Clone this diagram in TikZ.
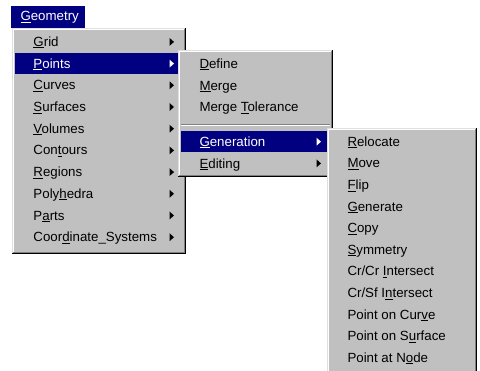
\documentclass[tikz,border=0pt]{standalone}
\usepackage{fontspec}
\setmainfont{Liberation Sans}
\usepackage{xcolor}
\usepackage{tikz}
\definecolor{menugray}{HTML}{C0C0C0}
\definecolor{menunavy}{HTML}{000080}
\definecolor{menudark}{HTML}{808080}
\definecolor{menulight}{HTML}{DFDFDF}
\newcommand{\acc}[1]{\setbox0\hbox{#1}\rlap{\rule[-1.9pt]{\wd0}{0.9pt}}#1}

\begin{document}
\begin{tikzpicture}[x=1pt,y=-1pt,line width=1pt,
    item/.style={anchor=base west,inner sep=0pt,font=\fontsize{13.3}{15}\selectfont},
    hotitem/.style={item,text=white},
    submark/.style={fill=black},
    hotsubmark/.style={fill=white}]
  \useasboundingbox[fill=white] (0,0) rectangle (480,371);
  % title bar
  \fill[menunavy] (11,6) rectangle (85,28);
  \node[hotitem] (geometry) at (20,21) {\acc{G}eometry};
  % main menu
  \fill[menugray] (12,28) rectangle (186,254);
  \draw[menulight] (12.5,253) |- (185,28.5);
  \draw[white] (13.5,252) |- (184,29.5);
  \draw[menudark] (13,252.5) -| (184.5,29);
  \draw[black] (12,253.5) -| (185.5,28);
  \fill[menunavy] (15,52.7) rectangle (183,74.4);
  \node[item] (grid) at (33,46.5) {\acc{G}rid};
  \node[hotitem] (points) at (33,68.2) {\acc{P}oints};
  \node[item] (curves) at (33,89.9) {\acc{C}urves};
  \node[item] (surfaces) at (33,111.6) {\acc{S}urfaces};
  \node[item] (volumes) at (33,133.3) {\acc{V}olumes};
  \node[item] (contours) at (33,155.0) {Con\acc{t}ours};
  \node[item] (regions) at (33,176.7) {\acc{R}egions};
  \node[item] (polyhedra) at (33,198.4) {Poly\acc{h}edra};
  \node[item] (parts) at (33,220.1) {P\acc{a}rts};
  \node[item] (coordsys) at (33,241.8) {Coor\acc{d}inate\_Systems};
  \fill[submark] (169.5,37.9) -- (174,41.9) -- (169.5,45.9) -- cycle;
  \fill[hotsubmark] (169.5,59.6) -- (174,63.6) -- (169.5,67.6) -- cycle;
  \fill[submark] (169.5,81.3) -- (174,85.3) -- (169.5,89.3) -- cycle;
  \fill[submark] (169.5,103.0) -- (174,107.0) -- (169.5,111.0) -- cycle;
  \fill[submark] (169.5,124.7) -- (174,128.7) -- (169.5,132.7) -- cycle;
  \fill[submark] (169.5,146.4) -- (174,150.4) -- (169.5,154.4) -- cycle;
  \fill[submark] (169.5,168.1) -- (174,172.1) -- (169.5,176.1) -- cycle;
  \fill[submark] (169.5,189.8) -- (174,193.8) -- (169.5,197.8) -- cycle;
  \fill[submark] (169.5,211.5) -- (174,215.5) -- (169.5,219.5) -- cycle;
  \fill[submark] (169.5,233.2) -- (174,237.2) -- (169.5,241.2) -- cycle;
  % points submenu
  \fill[menugray] (178,50) rectangle (333,177);
  \draw[menulight] (178.5,176) |- (332,50.5);
  \draw[white] (179.5,175) |- (331,51.5);
  \draw[menudark] (179,175.5) -| (331.5,51);
  \draw[black] (178,176.5) -| (332.5,50);
  \node[item] (define) at (199,68.5) {\acc{D}efine};
  \node[item] (merge) at (199,90.2) {\acc{M}erge};
  \node[item] (mergetol) at (199,111.9) {Merge \acc{T}olerance};
  \draw[menudark] (181,124.5) -- (330,124.5);
  \draw[white] (181,125.5) -- (330,125.5);
  \fill[menunavy] (181,131) rectangle (330,152.5);
  \node[hotitem] (generation) at (199,146.4) {\acc{G}eneration};
  \node[item] (editing) at (199,168.1) {\acc{E}diting};
  \fill[hotsubmark] (316.5,137.7) -- (321,141.7) -- (316.5,145.7) -- cycle;
  \fill[submark] (316.5,159.4) -- (321,163.4) -- (316.5,167.4) -- cycle;
  % generation submenu
  \fill[menugray] (327,128) rectangle (477,373);
  \draw[menulight] (327.5,372) |- (476,128.5);
  \draw[white] (328.5,371) |- (475,129.5);
  \draw[menudark] (328,371.5) -| (475.5,129);
  \draw[black] (327,372.5) -| (476.5,128);
  \node[item] (relocate) at (347,146.4) {\acc{R}elocate};
  \node[item] (move) at (347,168.0) {\acc{M}ove};
  \node[item] (flip) at (347,189.6) {\acc{F}lip};
  \node[item] (generate) at (347,211.2) {\acc{G}enerate};
  \node[item] (copy) at (347,232.8) {\acc{C}opy};
  \node[item] (symmetry) at (347,254.4) {\acc{S}ymmetry};
  \node[item] (crcr) at (347,276.0) {Cr/Cr \acc{I}ntersect};
  \node[item] (crsf) at (347,297.6) {Cr/Sf I\acc{n}tersect};
  \node[item] (oncurve) at (347,319.2) {Point on Cur\acc{v}e};
  \node[item] (onsurface) at (347,340.8) {Point on S\acc{u}rface};
  \node[item] (atnode) at (347,362.4) {Point at N\acc{o}de};
\end{tikzpicture}
\end{document}
